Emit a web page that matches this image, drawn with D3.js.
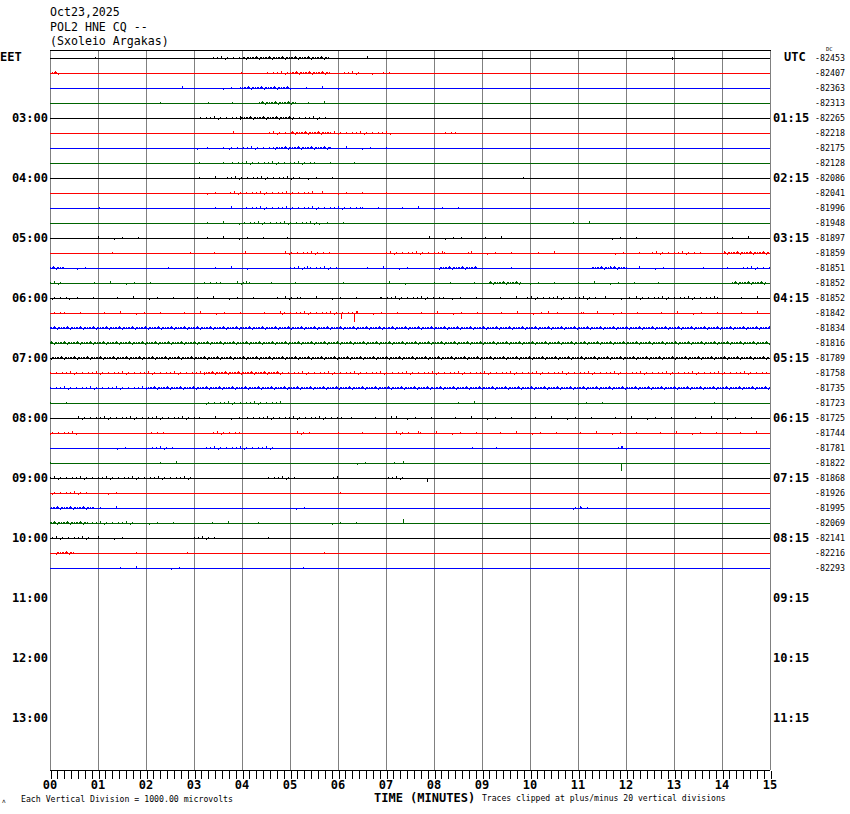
<!DOCTYPE html>
<html><head><meta charset="utf-8">
<script src="https://cdn.jsdelivr.net/npm/d3@7"></script>
<style>body{margin:0;background:#fff}svg{display:block}</style>
</head><body><svg id="c" width="850" height="814"></svg>
<script>
const headerLines = ["Oct23,2025", "POL2 HNE CQ --", "(Sxoleio Argakas)"];
const minuteLabels = ["00","01","02","03","04","05","06","07","08","09","10","11","12","13","14","15"];
const eetLabels = ["03:00","04:00","05:00","06:00","07:00","08:00","09:00","10:00","11:00","12:00","13:00"];
const utcLabels = ["01:15","02:15","03:15","04:15","05:15","06:15","07:15","08:15","09:15","10:15","11:15"];
const dcValues = [-82453,-82407,-82363,-82313,-82265,-82218,-82175,-82128,-82086,-82041,-81996,-81948,
  -81897,-81859,-81851,-81852,-81852,-81842,-81834,-81816,-81789,-81758,-81735,-81723,
  -81725,-81744,-81781,-81822,-81868,-81926,-81995,-82069,-82141,-82216,-82293];
const traceColors = ["#000000","#ff0000","#0000ff","#006400"];
// activity bursts per trace row: [startMinute, endMinute, density 1..3]
const bursts = [
  [[0.78,1.08,1],[2.56,2.6,1],[3.35,4.05,2],[4.05,5.8,3],[5.95,6.05,1],[6.6,6.65,1],[12.8,12.95,1]],
  [[0.04,0.17,3],[3.81,4.17,1],[4.48,5.0,2],[5.0,5.83,3],[6.04,6.46,2],[6.7,6.75,1],[6.94,7.08,2]],
  [[2.75,2.8,1],[3.44,3.96,1],[3.96,5.0,3],[5.0,6.0,1]],
  [[2.29,2.33,1],[3.13,4.06,1],[4.35,5.1,3],[5.2,5.94,1]],
  [[2.6,2.7,1],[3.08,3.96,2],[3.96,5.06,3],[5.06,5.77,2]],
  [[2.85,2.9,1],[3.81,4.1,1],[4.52,5.0,2],[5.0,5.83,3],[5.83,7.08,2],[7.85,7.92,1],[8.15,8.5,2]],
  [[3.06,3.1,1],[3.27,3.69,1],[3.69,4.65,2],[4.65,5.83,3],[5.83,7.15,1]],
  [[3.1,3.7,1],[3.7,5.5,2],[5.5,6.5,1]],
  [[3.1,3.6,1],[3.6,5.2,2],[5.2,6.15,1],[9.8,9.9,1]],
  [[3.1,3.7,1],[3.7,5.5,2],[5.5,7.1,1]],
  [[0.85,1.05,1],[3.1,4.0,1],[4.0,6.5,2],[6.5,8.95,1]],
  [[3.1,4.0,1],[4.0,5.6,2],[5.6,6.45,1],[10.9,11.25,1],[13.8,13.9,1]],
  [[1.0,2.1,1],[3.1,5.2,1],[7.9,8.4,1],[8.4,9.5,1],[11.55,12.6,1],[14.2,14.7,1]],
  [[1.3,1.4,1],[2.75,3.5,1],[3.9,4.1,1],[4.9,5.85,2],[7.0,8.2,2],[8.2,8.7,1],[8.6,9.8,1],[10.0,10.5,1],[11.6,12.4,1],[12.5,13.6,2],[14.05,15,3]],
  [[0,0.3,3],[0.4,0.85,1],[2.3,2.5,1],[3.1,4.2,1],[5.0,6.0,2],[6.6,7.5,1],[8.1,8.9,3],[9.6,9.7,1],[11.3,12.0,3],[12.1,13.0,1],[13.6,14.1,1],[14.4,15,2]],
  [[0,0.3,2],[0.75,2.3,1],[3.2,3.6,2],[3.9,4.2,2],[4.6,5.2,1],[6.9,7.5,1],[8.0,9.15,1],[9.15,9.8,3],[10.0,12.9,1],[14.2,14.9,3]],
  [[0,0.4,2],[0.4,4.9,1],[4.9,5.2,2],[5.2,6.9,1],[6.9,8.2,2],[8.2,9.9,1],[9.9,11.4,2],[11.4,12.2,1],[12.2,13.9,2],[13.9,15,1]],
  [[0,0.3,2],[0.3,4.8,1],[4.8,6.4,2],[6.4,15,1]],
  [[0,15,3]],
  [[0,15,3]],
  [[0,15,3]],
  [[0,3.2,2],[3.2,4.8,3],[4.8,15,2]],
  [[0,2.0,2],[2.0,15,3]],
  [[0,0.35,1],[1.25,1.5,1],[3.2,4.8,2],[6.0,6.1,1],[8.5,9.0,1],[11.0,11.5,1],[13.5,14.0,1]],
  [[0.55,3.1,2],[3.1,4.1,1],[4.1,6.1,2],[6.1,15,1]],
  [[0,0.55,2],[2.1,2.4,2],[3.4,3.95,2],[5.1,5.5,2],[6.0,6.5,1],[7.2,7.55,2],[7.7,15,1]],
  [[1.4,1.7,1],[2.05,2.65,2],[3.25,4.7,2],[8.8,9.3,1],[11.8,12.0,2]],
  [[0,0.1,1],[1.65,1.95,1],[2.3,2.8,1],[6.4,6.6,1],[7.0,7.5,1]],
  [[0,2.95,2],[4.5,5.1,2],[5.9,6.1,1],[7.05,7.4,2]],
  [[0,0.8,2],[1.05,1.4,1],[4.2,4.35,1],[6.05,6.1,1]],
  [[0,0.9,3],[1.05,1.4,1],[4.95,5.35,1],[10.9,11.2,2]],
  [[0,0.8,3],[0.8,1.8,2],[1.9,2.8,1],[3.2,3.8,1],[5.7,6.5,1]],
  [[0,0.8,2],[1.0,1.6,1],[2.95,3.5,2],[4.55,4.6,1]],
  [[0.1,0.5,3],[1.8,2.1,1],[2.85,3.1,1],[6.9,7.05,1]],
  [[0,0.1,1],[1.3,1.9,1],[2.35,2.75,1],[5.1,5.3,1],[6.5,6.6,1]]
];
// distinct larger spikes: [row, minute, amplitude px (+ up, - down)]
const spikes = [
  [14,5.35,3],[14,11.67,3],[15,4.08,3],[15,6.1,2],[17,6.06,-5],[17,6.33,-8],[17,10.37,3],[17,11.1,2],
  [24,7.2,3],[25,7.67,3],[26,11.9,3],[27,7.35,3],[27,11.9,-7],[28,5.98,3],[28,7.85,-3],
  [30,11.05,3],[31,7.35,5],[31,4.33,2],[33,5.7,2],[8,9.85,2],[0,12.95,2]
];

const svg = d3.select("#c");
const x = d3.scaleLinear().domain([0, 15]).range([50, 770]);
const row = d3.scaleLinear().domain([0, 44]).range([58, 718]);
const amp = d3.scaleLinear().domain([0, 1]).range([0, -1]);
const mono = "'DejaVu Sans Mono', 'Liberation Mono', monospace";

// header
svg.selectAll("text.hdr").data(headerLines).join("text")
  .attr("x", 50).attr("y", (d, i) => [16, 31, 45][i])
  .style("font-family", mono).style("font-size", "11.6px").attr("fill", "#000").text(d => d);

// gridlines
svg.append("g").selectAll("line").data(d3.range(0, 16)).join("line")
  .attr("x1", d => x(d) + 0.5).attr("x2", d => x(d) + 0.5).attr("y1", 50).attr("y2", 770)
  .attr("stroke", "#808080").attr("shape-rendering", "crispEdges");
svg.append("line").attr("x1", 50).attr("x2", 771).attr("y1", 50.5).attr("y2", 50.5)
  .attr("stroke", "#000").attr("shape-rendering", "crispEdges");

// traces
const tg = svg.append("g").attr("shape-rendering", "crispEdges");
const stepFor = {1: 8, 2: 2, 3: 1};
const hPatterns = {
  1: [1, 2, 1, 1, 2, 1, 3, 1, -1, 2],
  2: [1, 2, 1, 1, 2, 1, 2, 1, 3, 1, -1, 2, 1],
  3: [2, 1, 2, 2, 1, 2, 3, 2, 1, -1, 2, 2, 1]
};
bursts.forEach((rowBursts, r) => {
  const y0 = Math.round(row(r)) + 0.5;
  const col = traceColors[r % 4];
  tg.append("line").attr("x1", 50).attr("x2", 770).attr("y1", y0).attr("y2", y0).attr("stroke", col);
  let k = r * 3;
  const ticks = [];
  rowBursts.forEach(([s, e, d]) => {
    const step = stepFor[d];
    const pat = hPatterns[d];
    for (let px = Math.round(x(s)); px <= Math.min(769, Math.round(x(e))); px += step) {
      ticks.push([px, pat[k % pat.length]]);
      k++;
    }
  });
  tg.selectAll(null).data(ticks).join("line")
    .attr("x1", d => d[0] + 0.5).attr("x2", d => d[0] + 0.5)
    .attr("y1", d => d[1] > 0 ? y0 + 0.5 : y0 - 0.5)
    .attr("y2", d => y0 + amp(d[1]))
    .attr("stroke", col);
});
tg.selectAll("line.spk").data(spikes).join("line").attr("class", "spk")
  .attr("x1", d => Math.round(x(d[1])) + 0.5).attr("x2", d => Math.round(x(d[1])) + 0.5)
  .attr("y1", d => Math.round(row(d[0])) + 0.5)
  .attr("y2", d => Math.round(row(d[0])) + 0.5 + amp(d[2]))
  .attr("stroke", d => traceColors[d[0] % 4]).attr("stroke-width", 1);

// left/right labels
svg.append("text").attr("x", 0).attr("y", 61).style("font-family", mono).style("font-weight", "bold")
  .style("font-size", "12px").text("EET");
svg.append("text").attr("x", 784).attr("y", 61).style("font-family", mono).style("font-weight", "bold")
  .style("font-size", "12px").text("UTC");
svg.selectAll("text.eet").data(eetLabels).join("text").attr("class", "eet")
  .attr("x", 48).attr("y", (d, i) => row(4 + i * 4) + 4).attr("text-anchor", "end")
  .style("font-family", mono).style("font-weight", "bold").style("font-size", "12px").text(d => d);
svg.selectAll("text.utc").data(utcLabels).join("text").attr("class", "utc")
  .attr("x", 773).attr("y", (d, i) => row(4 + i * 4) + 4)
  .style("font-family", mono).style("font-weight", "bold").style("font-size", "12px").text(d => d);
svg.selectAll("text.dc").data(dcValues).join("text").attr("class", "dc")
  .attr("x", 815).attr("y", (d, i) => row(i) + 3)
  .style("font-family", mono).style("font-size", "8.3px").text(d => String(d));
svg.append("text").attr("x", 826).attr("y", 51).style("font-family", mono).style("font-size", "5.5px").text("DC");

// bottom axis
const axis = d3.axisBottom(x).tickValues(d3.range(0, 15 * 7 + 1).map(i => i / 7))
  .tickSize(8).tickFormat("");
const ag = svg.append("g").attr("transform", "translate(0.5,770.5)").call(axis);
ag.select(".domain").attr("d", "M49.5,0H769.5").attr("stroke", "#000").attr("shape-rendering", "crispEdges");
ag.selectAll(".tick line").attr("stroke", "#000").attr("shape-rendering", "crispEdges");
svg.selectAll("text.mn").data(minuteLabels).join("text").attr("class", "mn")
  .attr("x", (d, i) => x(i)).attr("y", 789).attr("text-anchor", "middle")
  .style("font-family", mono).style("font-weight", "bold").style("font-size", "12px").text(d => d);
svg.append("text").attr("x", 374).attr("y", 802).style("font-family", mono).style("font-weight", "bold")
  .style("font-size", "12px").text("TIME (MINUTES)");
svg.append("text").attr("x", 21).attr("y", 802).style("font-family", mono).style("font-size", "8.2px")
  .text("Each Vertical Division = 1000.00 microvolts");
svg.append("text").attr("x", 482).attr("y", 801).style("font-family", mono).style("font-size", "8.1px")
  .text("Traces clipped at plus/minus 20 vertical divisions");
svg.append("text").attr("x", 2).attr("y", 803).style("font-family", mono).style("font-size", "6px").text("ʌ");
</script></body></html>
